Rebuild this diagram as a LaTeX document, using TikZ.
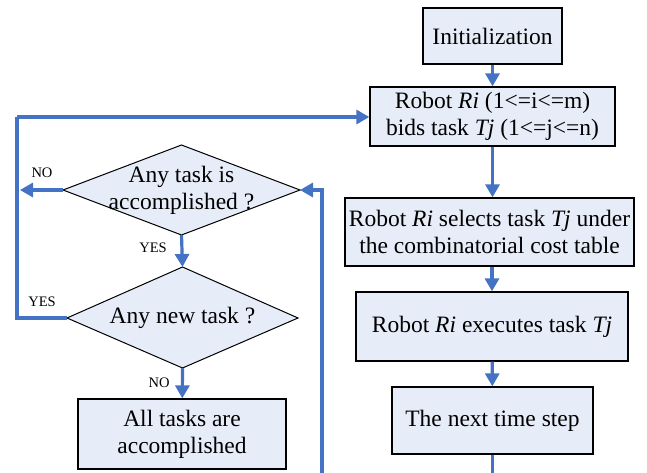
\documentclass[tikz,border=0pt]{standalone}
\usepackage{fontspec}
\setmainfont{Liberation Serif}
\newfontfamily\flowfont{Liberation Serif}
\usetikzlibrary{arrows.meta}
\definecolor{flowblue}{RGB}{68,114,196}
\definecolor{boxfill}{RGB}{230,236,248}
\begin{document}
\begin{tikzpicture}[x=1pt,y=-1pt,
  procbox/.style={draw=black,line width=1.3pt,fill=boxfill,align=center,
    inner sep=0pt,font=\flowfont\fontsize{23.5}{27}\selectfont},
  decision/.style={draw=black,line width=1pt,fill=boxfill},
  qtext/.style={align=center,inner sep=0pt,font=\flowfont\fontsize{23.5}{27}\selectfont},
  lbl/.style={inner sep=0pt,font=\flowfont\fontsize{14.5}{16}\selectfont},
  flow/.style={draw=flowblue,line width=3.2pt},
  arr/.style={flow,-{Triangle[length=13pt,width=14pt]}}]
\useasboundingbox (0,0) rectangle (647,473);

% right column: process boxes
\node[procbox,minimum width=139,minimum height=56] (init) at (492.5,36) {Initialization};
\node[procbox,minimum width=245,minimum height=59] (bid) at (492.5,116.5)
  {Robot \textit{Ri} (1<=i<=m)\\bids task \textit{Tj} (1<=j<=n)};
\node[procbox,minimum width=289,minimum height=68] (sel) at (489.5,232)
  {Robot \textit{Ri} selects task \textit{Tj} under\\the combinatorial cost table};
\node[procbox,minimum width=272,minimum height=69] (exe) at (492,326.5)
  {Robot \textit{Ri} executes task \textit{Tj}};
\node[procbox,minimum width=201,minimum height=67] (next) at (492.5,420.5)
  {The next time step};

% left column: decisions and final box
\coordinate (d1n) at (181.5,145);
\coordinate (d1e) at (300,190);
\coordinate (d1s) at (181.5,235);
\coordinate (d1w) at (63,190);
\draw[decision] (d1n) -- (d1e) -- (d1s) -- (d1w) -- cycle;
\node[qtext] (q1) at (181.5,190) {Any task is\\accomplished ?};

\coordinate (d2n) at (182.5,267);
\coordinate (d2e) at (298,318);
\coordinate (d2s) at (182.5,368);
\coordinate (d2w) at (67,318);
\draw[decision] (d2n) -- (d2e) -- (d2s) -- (d2w) -- cycle;
\node[qtext] (q2) at (182.5,318) {Any new task ?};

\node[procbox,minimum width=208,minimum height=70] (done) at (182,434)
  {All tasks are\\accomplished};

% free ends and bends of the connectors
\coordinate (noend) at (20,190);
\coordinate (loopL) at (17,318);
\coordinate (loopT) at (17,117);
\coordinate (backB) at (322,473);
\coordinate (backT) at (322,190);
\coordinate (nextB) at (492.5,473);

% connectors
\draw[arr] (init) -- (bid);
\draw[arr] (bid) -- (bid.south |- sel.north);
\draw[arr] (sel.south -| exe.north) -- (exe);
\draw[arr] (exe) -- (next);
\draw[flow] (next) -- (nextB);
\draw[arr] (d1w) -- (noend);
\draw[arr] (d1s) -- (d2n);
\draw[arr] (d2s) -- (done);
\draw[flow] (d2w) -- (loopL) -- (loopT);
\draw[arr] (loopT) -- (bid.west |- loopT);
\draw[arr] (backB) -- (backT) -- (d1e);

% branch labels
\node[lbl] (l1) at (42,173) {NO};
\node[lbl] (l2) at (153,248) {YES};
\node[lbl] (l3) at (42,302) {YES};
\node[lbl] (l4) at (159,383) {NO};
\end{tikzpicture}
\end{document}
